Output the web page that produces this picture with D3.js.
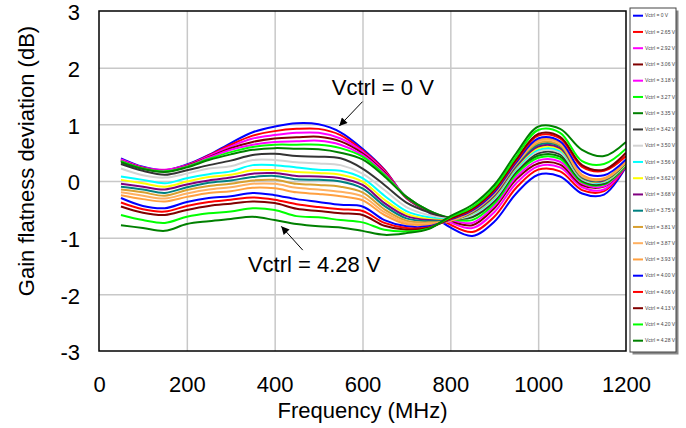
<!DOCTYPE html>
<html><head><meta charset="utf-8">
<script src="https://cdn.jsdelivr.net/npm/d3@7"></script>
<style>body{margin:0;background:#fff}svg{display:block}</style>
</head><body>
<svg id="c" width="686" height="428"></svg>
<script>
const freqs = [50,100,150,200,250,300,350,400,450,500,550,600,650,700,750,800,850,900,950,1000,1050,1100,1150,1200];
const vctrlLabels = ["0","2.65","2.92","3.06","3.18","3.27","3.35","3.42","3.50","3.56","3.62","3.68","3.75","3.81","3.87","3.93","4.00","4.06","4.13","4.20","4.28"];
const seriesColors = ["#0000ff","#ff0000","#ff00ff","#800000","#ff00ff","#00ff00","#008000","#333333","#d3d3d3","#00ffff","#ffff00","#800080","#008080","#d8a030","#ffb060","#ffa040","#0000ff","#ff0000","#800000","#00ff00","#008000"];
const xTicks = [0,200,400,600,800,1000,1200];
const yTicks = [-3,-2,-1,0,1,2,3];

const v000 = [0.40,0.25,0.19,0.29,0.46,0.67,0.86,0.96,1.02,1.00,0.86,0.57,0.20,-0.30,-0.55,-0.82,-0.97,-0.72,-0.22,0.11,0.08,-0.22,-0.24,0.25];
const v265 = [0.38,0.24,0.19,0.28,0.45,0.64,0.80,0.88,0.92,0.92,0.81,0.54,0.19,-0.30,-0.54,-0.77,-0.90,-0.63,-0.12,0.20,0.17,-0.16,-0.18,0.26];
const v292 = [0.38,0.24,0.20,0.28,0.44,0.61,0.75,0.81,0.85,0.85,0.75,0.52,0.17,-0.29,-0.53,-0.73,-0.83,-0.55,-0.04,0.26,0.24,-0.11,-0.15,0.27];
const v306 = [0.36,0.23,0.18,0.27,0.42,0.58,0.69,0.75,0.77,0.78,0.70,0.49,0.15,-0.29,-0.53,-0.70,-0.78,-0.48,0.03,0.31,0.29,-0.07,-0.10,0.27];
const v318 = [0.36,0.22,0.18,0.26,0.41,0.55,0.64,0.69,0.70,0.71,0.64,0.46,0.13,-0.28,-0.52,-0.68,-0.74,-0.44,0.07,0.36,0.34,-0.04,-0.09,0.28];
const v327 = [0.35,0.22,0.17,0.25,0.39,0.51,0.60,0.64,0.64,0.64,0.58,0.43,0.11,-0.28,-0.52,-0.66,-0.69,-0.40,0.12,0.41,0.39,-0.02,-0.06,0.28];
const v335 = [0.33,0.21,0.16,0.24,0.37,0.47,0.55,0.58,0.57,0.56,0.50,0.38,0.08,-0.28,-0.52,-0.65,-0.64,-0.36,0.16,0.45,0.43,0.00,-0.05,0.29];
const v342 = [0.30,0.18,0.11,0.19,0.28,0.36,0.46,0.48,0.44,0.43,0.40,0.22,-0.07,-0.38,-0.55,-0.66,-0.62,-0.34,0.18,0.49,0.47,0.02,-0.03,0.30];
const v350 = [0.22,0.10,0.06,0.13,0.22,0.26,0.37,0.37,0.33,0.31,0.28,0.13,-0.16,-0.46,-0.60,-0.67,-0.60,-0.32,0.20,0.52,0.50,0.03,-0.02,0.30];
const v356 = [0.08,0.02,-0.04,0.05,0.12,0.17,0.28,0.28,0.24,0.20,0.18,0.05,-0.26,-0.53,-0.64,-0.68,-0.58,-0.30,0.22,0.55,0.53,0.04,-0.01,0.31];
const v362 = [0.02,-0.04,-0.10,-0.01,0.07,0.11,0.19,0.19,0.16,0.14,0.11,-0.01,-0.33,-0.58,-0.67,-0.68,-0.57,-0.28,0.24,0.58,0.56,0.05,0.00,0.31];
const v368 = [-0.05,-0.10,-0.15,-0.06,0.01,0.06,0.13,0.14,0.09,0.08,0.05,-0.07,-0.39,-0.62,-0.69,-0.69,-0.56,-0.26,0.26,0.61,0.58,0.06,0.01,0.32];
const v375 = [-0.10,-0.15,-0.21,-0.11,-0.03,0.01,0.07,0.09,0.03,0.02,-0.01,-0.13,-0.44,-0.66,-0.71,-0.69,-0.55,-0.24,0.28,0.64,0.61,0.07,0.02,0.32];
const v381 = [-0.15,-0.20,-0.26,-0.16,-0.09,-0.05,0.01,0.02,-0.05,-0.07,-0.10,-0.20,-0.50,-0.70,-0.73,-0.70,-0.54,-0.23,0.30,0.67,0.63,0.08,0.03,0.33];
const v387 = [-0.20,-0.26,-0.31,-0.22,-0.15,-0.11,-0.05,-0.05,-0.12,-0.15,-0.19,-0.27,-0.55,-0.73,-0.75,-0.70,-0.53,-0.22,0.31,0.70,0.66,0.09,0.04,0.34];
const v393 = [-0.25,-0.32,-0.36,-0.28,-0.21,-0.18,-0.12,-0.13,-0.20,-0.23,-0.27,-0.34,-0.60,-0.76,-0.77,-0.70,-0.52,-0.21,0.32,0.72,0.68,0.11,0.05,0.35];
const v400 = [-0.30,-0.44,-0.48,-0.37,-0.30,-0.27,-0.21,-0.25,-0.32,-0.37,-0.42,-0.45,-0.69,-0.80,-0.80,-0.68,-0.52,-0.20,0.33,0.75,0.70,0.17,0.10,0.38];
const v406 = [-0.38,-0.50,-0.54,-0.44,-0.37,-0.33,-0.29,-0.33,-0.41,-0.46,-0.50,-0.53,-0.74,-0.83,-0.82,-0.67,-0.50,-0.17,0.36,0.80,0.75,0.25,0.18,0.44];
const v413 = [-0.45,-0.56,-0.60,-0.51,-0.44,-0.40,-0.36,-0.39,-0.49,-0.53,-0.57,-0.60,-0.79,-0.86,-0.83,-0.66,-0.49,-0.15,0.38,0.83,0.78,0.28,0.20,0.50];
const v420 = [-0.60,-0.69,-0.74,-0.63,-0.57,-0.54,-0.48,-0.51,-0.62,-0.64,-0.69,-0.73,-0.86,-0.89,-0.84,-0.64,-0.46,-0.12,0.43,0.90,0.85,0.35,0.30,0.57];
const v428 = [-0.78,-0.83,-0.88,-0.76,-0.71,-0.67,-0.63,-0.69,-0.76,-0.80,-0.82,-0.88,-0.95,-0.92,-0.85,-0.62,-0.42,-0.07,0.49,0.96,0.92,0.55,0.44,0.69];

const seriesValues = [v000,v265,v292,v306,v318,v327,v335,v342,v350,v356,v362,v368,v375,v381,v387,v393,v400,v406,v413,v420,v428];

const annotations = [
  {text:"Vctrl = 0 V", tx:530, ty:1.52, from:[600,1.40], to:[547,0.97]},
  {text:"Vctrl = 4.28 V", tx:339, ty:-1.61, from:[464,-1.22], to:[415,-0.80]}
];

const svg = d3.select("#c");
const L=99, R=626, T=11, B=351;
const x = d3.scaleLinear().domain([0,1200]).range([L,R]);
const y = d3.scaleLinear().domain([-3,3]).range([B,T]);
const FONT = "Liberation Sans, Arial, sans-serif";
const FS = 22;

// grid
const grid = svg.append("g");
grid.append("g").attr("transform",`translate(0,${B})`)
  .call(d3.axisBottom(x).tickValues(xTicks.slice(1,-1)).tickSize(-(B-T)).tickFormat(""))
  .call(g=>g.select(".domain").remove())
  .call(g=>g.selectAll("line").attr("stroke","#c8c8c8").attr("stroke-width",1.5));
grid.append("g").attr("transform",`translate(${L},0)`)
  .call(d3.axisLeft(y).tickValues(yTicks.slice(1,-1)).tickSize(-(R-L)).tickFormat(""))
  .call(g=>g.select(".domain").remove())
  .call(g=>g.selectAll("line").attr("stroke","#c8c8c8").attr("stroke-width",1.5));

// axes labels
svg.append("g").attr("transform",`translate(0,${B})`)
  .call(d3.axisBottom(x).tickValues(xTicks).tickSize(0).tickPadding(25).tickFormat(d=>String(d)))
  .call(g=>g.select(".domain").remove())
  .call(g=>g.selectAll("text").attr("font-family",FONT).attr("font-size",FS).attr("fill","#000"));
svg.append("g").attr("transform",`translate(${L},0)`)
  .call(d3.axisLeft(y).tickValues(yTicks).tickSize(0).tickPadding(19).tickFormat(d=>String(d)))
  .call(g=>g.select(".domain").remove())
  .call(g=>g.selectAll("text").attr("font-family",FONT).attr("font-size",FS).attr("fill","#000").attr("dy","0.4em"));

// clip
svg.append("clipPath").attr("id","clip").append("rect").attr("x",L).attr("y",T).attr("width",R-L).attr("height",B-T);

const line = d3.line().x((d,i)=>x(freqs[i])).y(d=>y(d)).curve(d3.curveCatmullRom.alpha(0.5));
const lines = svg.append("g").attr("clip-path","url(#clip)");
seriesValues.forEach((vals,i)=>{
  lines.append("path").attr("d",line(vals)).attr("fill","none")
    .attr("stroke",seriesColors[i]).attr("stroke-width",2).attr("stroke-linejoin","round");
});

// frame
svg.append("rect").attr("x",L).attr("y",T).attr("width",R-L).attr("height",B-T)
  .attr("fill","none").attr("stroke","#000").attr("stroke-width",1.5);

// titles
svg.append("text").attr("x",(L+R)/2).attr("y",418).attr("text-anchor","middle")
  .attr("font-family",FONT).attr("font-size",FS).text("Frequency (MHz)");
svg.append("text").attr("transform","translate(34,161) rotate(-90)").attr("text-anchor","middle")
  .attr("font-family",FONT).attr("font-size",FS).text("Gain flatness deviation (dB)");

// annotations
svg.append("defs").append("marker").attr("id","ah").attr("viewBox","0 0 10 10").attr("refX",10).attr("refY",5)
  .attr("markerWidth",10).attr("markerHeight",8).attr("markerUnits","userSpaceOnUse").attr("orient","auto")
  .append("path").attr("d","M0,0 L10,5 L0,10 Z").attr("fill","#000");
annotations.forEach(a=>{
  svg.append("line").attr("x1",x(a.from[0])).attr("y1",y(a.from[1])).attr("x2",x(a.to[0])).attr("y2",y(a.to[1]))
    .attr("stroke","#000").attr("stroke-width",1).attr("marker-end","url(#ah)");
  svg.append("text").attr("x",x(a.tx)).attr("y",y(a.ty)).attr("font-family",FONT).attr("font-size",FS).text(a.text);
});

// legend
const LX=630, LY=8, LW=46, LH=344;
svg.append("rect").attr("x",LX+2.5).attr("y",LY+2.5).attr("width",LW).attr("height",LH).attr("fill","#888");
svg.append("rect").attr("x",LX).attr("y",LY).attr("width",LW).attr("height",LH).attr("fill","#fff").attr("stroke","#444").attr("stroke-width",1);
const leg = svg.append("g");
vctrlLabels.forEach((lab,i)=>{
  const yy = LY + 7.7 + i*16.25;
  leg.append("line").attr("x1",LX+3).attr("x2",LX+13).attr("y1",yy).attr("y2",yy).attr("stroke",seriesColors[i]).attr("stroke-width",2);
  leg.append("text").attr("x",LX+15).attr("y",yy).attr("dy","0.35em").attr("font-family",FONT).attr("font-size",5).attr("fill","#444").text(`Vctrl = ${lab} V`);
});
</script>
</body></html>
